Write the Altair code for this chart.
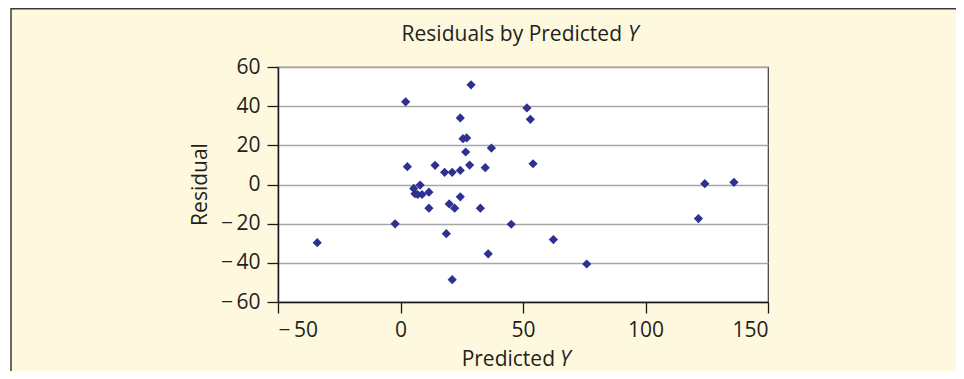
import altair as alt
import pandas as pd

# Data
predicted = [-34.0, 2.1, 28.8, 24.4, 25.5, 27.0, 26.6, 37.1, 2.8, 14.1, 18.0, 21.1, 24.4,
             28.2, 34.6, 5.4, 8.0, 5.9, 7.0, 8.8, 11.6, 11.6, 24.4, 19.9, 22.1, 32.6, -2.2,
             18.7, 35.8, 21.1, 45.2, 51.6, 53.0, 54.1, 62.4, 76.0, 121.6, 124.2, 136.1]
residual = [-29.7, 42.2, 50.9, 34.0, 23.4, 23.8, 16.6, 18.6, 9.1, 9.8, 6.2, 6.2, 7.2,
            9.9, 8.6, -2.0, -0.3, -4.7, -5.1, -5.1, -3.9, -12.1, -6.3, -9.9, -12.1, -12.1, -20.1,
            -25.1, -35.4, -48.6, -20.3, 39.1, 33.3, 10.6, -28.1, -40.6, -17.4, 0.4, 1.1]
x_ticks = [-50, 0, 50, 100, 150]
y_ticks = [-60, -40, -20, 0, 20, 40, 60]

FONT = "Open Sans"
FS = 21
TXT = "#231f20"
BG = "#fef9de"
W, H = 490, 235
PAD = {"left": 270, "top": 59, "right": 188, "bottom": 69}

df = pd.DataFrame({"pred": predicted, "resid": residual})
one = pd.DataFrame({"k": [0]})

minus_expr = "replace(toString(datum.value), '-', '\u2212\u2009')"

points = alt.Chart(df).mark_point(
    shape="diamond", filled=True, size=85, color="#2e3192", opacity=1
).encode(
    x=alt.X("pred:Q",
            scale=alt.Scale(domain=[-50, 150], nice=False, zero=False),
            axis=alt.Axis(values=x_ticks, title=None, grid=False, tickSize=11,
                          labelPadding=6, labelExpr=minus_expr)),
    y=alt.Y("resid:Q",
            scale=alt.Scale(domain=[-60, 60], nice=False, zero=False),
            axis=alt.Axis(values=y_ticks, title=None, grid=True, tickSize=11,
                          labelPadding=7, labelExpr=minus_expr)),
)

def txt(text, x, y, align="left", italic=False, angle=0):
    kw = dict(text=text, align=align, baseline="alphabetic", font=FONT,
              fontSize=FS, color=TXT)
    if italic:
        kw["fontStyle"] = "italic"
    if angle:
        kw["angle"] = angle
    return alt.Chart(one).mark_text(**kw).encode(x=alt.value(x), y=alt.value(y))

title_a = txt("Residuals by Predicted", 344, -26, align="right")
title_b = txt("Y", 350, -26, italic=True)
xt_a = txt("Predicted", 277, 299, align="right")
xt_b = txt("Y", 282, 299, italic=True)
yt = txt("Residual", -71, 117.5, align="center", angle=270)

strip = alt.Chart(one).mark_rect(color="white").encode(
    x=alt.value(-271), x2=alt.value(-268), y=alt.value(-60), y2=alt.value(310))
left_border = alt.Chart(one).mark_rule(color="#3a3a3a", strokeWidth=1.5).encode(
    x=alt.value(-267), y=alt.value(-59), y2=alt.value(310))
top_border = alt.Chart(one).mark_rule(color="#3a3a3a", strokeWidth=1.5).encode(
    x=alt.value(-267), x2=alt.value(700), y=alt.value(-58.3))

chart = alt.layer(
    strip, left_border, top_border, points, title_a, title_b, xt_a, xt_b, yt
).properties(
    width=W, height=H,
    autosize=alt.AutoSizeParams(type="none"),
    padding=PAD,
    background=BG,
).configure_view(
    stroke="#3a3a3a", strokeWidth=1.2, fill="white"
).configure_axis(
    domainColor="#1a1a1a", domainWidth=1.5, tickColor="#1a1a1a", tickWidth=1.3,
    labelFont=FONT, labelFontSize=FS, labelColor=TXT,
    gridColor="#a6a6a6", gridWidth=1.5,
)

chart.save("out.html", embed_options={"renderer": "svg", "actions": False})
